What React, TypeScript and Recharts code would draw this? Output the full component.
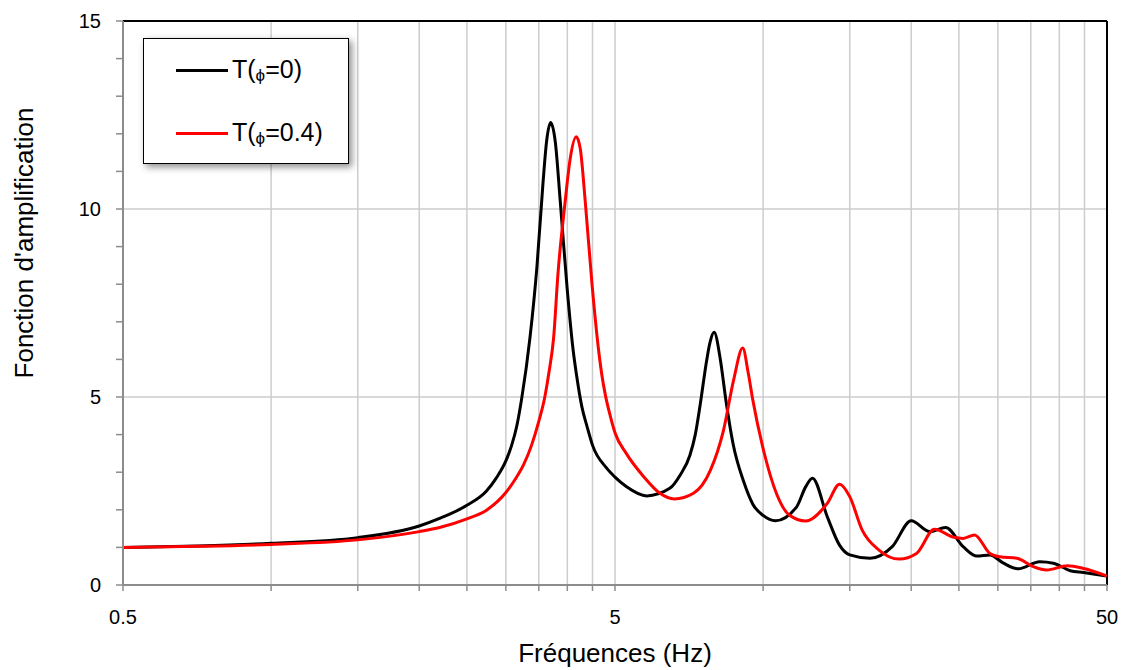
import React from 'react';
import { LineChart, Line, XAxis, YAxis, CartesianGrid, ReferenceLine } from 'recharts';

// Transfer function for phi = 0
const freqPhi0 = [
  0.5, 0.71, 1.0, 1.5, 2.0, 2.2, 2.5, 2.74, 2.87, 3.0, 3.08, 3.16, 3.23, 3.36, 3.47, 3.57, 3.63, 3.7,
  3.78, 3.87, 3.99, 4.11, 4.18, 4.28, 4.39, 4.5, 4.8, 5.0, 5.27, 5.8, 6.46, 6.78, 7.1, 7.28, 7.45, 7.68,
  7.8, 7.95, 8.19, 8.4, 8.69, 9.13, 9.53, 10.0, 10.6, 11.7, 12.2, 12.6, 13.5, 14.3, 15.0, 16.5, 18.3,
  20.0, 21.8, 23.5, 25.5, 27.2, 28.9, 30.8, 33.0, 36.5, 38.9, 42.1, 44.8, 50,
];
const ampPhi0 = [
  1.0, 1.04, 1.11, 1.26, 1.57, 1.77, 2.12, 2.5, 2.85, 3.3, 3.7, 4.25, 4.95, 6.6, 8.47, 10.7, 11.8, 12.3,
  11.8, 10.2, 8.0, 6.25, 5.55, 4.75, 4.2, 3.72, 3.12, 2.87, 2.62, 2.37, 2.57, 2.92, 3.45, 4.0, 4.8, 5.98,
  6.45, 6.72, 5.98, 4.92, 3.75, 2.75, 2.15, 1.85, 1.71, 2.08, 2.61, 2.84, 1.82, 1.06, 0.8, 0.71, 1.02,
  1.71, 1.42, 1.53, 1.02, 0.77, 0.8, 0.58, 0.43, 0.62, 0.58, 0.38, 0.33, 0.24,
];

// Transfer function for phi = 0.4
const freqPhi04 = [
  0.5, 0.71, 1.0, 1.5, 2.0, 2.2, 2.5, 2.74, 3.0, 3.13, 3.26, 3.38, 3.5, 3.6, 3.67, 3.75, 3.83, 3.96,
  4.05, 4.17, 4.25, 4.35, 4.49, 4.63, 4.7, 4.78, 4.89, 5.0, 5.27, 5.72, 6.17, 6.6, 7.22, 7.82, 8.31, 8.71,
  9.09, 9.33, 9.53, 9.97, 10.67, 11.3, 12.2, 13.5, 14.3, 15.0, 15.9, 17.2, 18.9, 20.5, 22.3, 24.4, 25.5,
  26.9, 28.9, 30.3, 32.8, 35.4, 37.7, 41.5, 44.8, 50,
];
const ampPhi04 = [
  1.0, 1.03, 1.08, 1.2, 1.42, 1.53, 1.76, 1.99, 2.46, 2.8, 3.2, 3.7, 4.35, 5.0, 5.65, 6.55, 8.3, 10.2,
  11.3, 11.92, 11.6, 10.2, 8.0, 6.25, 5.6, 5.05, 4.5, 4.05, 3.5, 2.88, 2.44, 2.29, 2.44, 3.06, 4.12, 5.45,
  6.3, 5.63, 4.92, 3.7, 2.4, 1.86, 1.7, 2.17, 2.68, 2.35, 1.46, 0.93, 0.69, 0.84, 1.48, 1.27, 1.24,
  1.33, 0.84, 0.75, 0.71, 0.49, 0.4, 0.51, 0.44, 0.24,
];

const xTicks = [0.5, 1, 1.5, 2, 2.5, 3, 3.5, 4, 4.5, 5, 10, 15, 20, 25, 30, 35, 40, 45, 50];
const xTickLabels = [0.5, 5, 50];
const yTicks = [0, 1, 2, 3, 4, 5, 6, 7, 8, 9, 10, 11, 12, 13, 14, 15];
const yTickLabels = [0, 5, 10, 15];
const yGridValues = [5, 10];

const legendPrefix = ['T(', 'T('];
const legendSub = ['ϕ', 'ϕ'];
const legendSuffix = ['=0)', '=0.4)'];

const COLORS = ['#000000', '#ff0000'];
const FONT = '"Liberation Sans", Arial, sans-serif';
const AXIS_GRAY = '#8c8c8c';
const GRID_GRAY = '#cdcdcd';

const toPoints = (fs: number[], vs: number[]) => fs.map((f, i) => ({ f, v: vs[i] }));
const seriesData = [toPoints(freqPhi0, ampPhi0), toPoints(freqPhi04, ampPhi04)];

const YTitle = () => (
  <text
    x={24}
    y={243}
    transform="rotate(-90 24 243)"
    textAnchor="middle"
    dominantBaseline="central"
    style={{ fontFamily: FONT, fontSize: 26, fill: '#000' }}
  >
    Fonction d'amplification
  </text>
);

export default function App() {
  return (
    <div style={{ position: 'absolute', left: 0, top: 0, width: 1124, height: 670, background: '#fff' }}>
      <LineChart width={1124} height={670} data={seriesData[0]} margin={{ top: 21, right: 17, bottom: 0, left: 0 }}>
        <CartesianGrid horizontal={false} vertical stroke={GRID_GRAY} strokeWidth={1.5} />
        {yGridValues.map((y) => (
          <ReferenceLine key={y} y={y} stroke={GRID_GRAY} strokeWidth={1.5} />
        ))}
        <XAxis
          dataKey="f"
          type="number"
          scale="log"
          domain={[0.5, 50]}
          allowDataOverflow
          ticks={xTicks}
          interval={0}
          height={85}
          tickSize={6}
          tickMargin={19}
          axisLine={{ stroke: AXIS_GRAY, strokeWidth: 2 }}
          tickLine={{ stroke: AXIS_GRAY, strokeWidth: 1.5 }}
          tick={{ fontFamily: FONT, fontSize: 20, fill: '#000' }}
          tickFormatter={(v: number) => (xTickLabels.includes(v) ? String(v) : '')}
          label={{
            value: 'Fréquences (Hz)',
            position: 'insideBottom',
            offset: 8,
            style: { fontFamily: FONT, fontSize: 26, fill: '#000' },
          }}
        />
        <YAxis
          type="number"
          domain={[0, 15]}
          ticks={yTicks}
          interval={0}
          width={123}
          tickSize={7}
          tickMargin={15}
          axisLine={{ stroke: AXIS_GRAY, strokeWidth: 2 }}
          tickLine={{ stroke: AXIS_GRAY, strokeWidth: 1.5 }}
          tick={{ fontFamily: FONT, fontSize: 20, fill: '#000' }}
          tickFormatter={(v: number) => (yTickLabels.includes(v) ? String(v) : '')}
          label={{ content: YTitle }}
        />
        <ReferenceLine y={15} stroke="#000" strokeWidth={2} />
        <ReferenceLine x={50} stroke="#000" strokeWidth={2} />
        {seriesData.map((d, i) => (
          <Line
            key={i}
            data={d}
            dataKey="v"
            type="monotone"
            stroke={COLORS[i]}
            strokeWidth={3}
            dot={false}
            activeDot={false}
            isAnimationActive={false}
          />
        ))}
      </LineChart>
      <div
        style={{
          position: 'absolute',
          left: 143,
          top: 38,
          width: 206,
          height: 126,
          boxSizing: 'border-box',
          border: '1.5px solid #000',
          background: '#fff',
          boxShadow: '3px 3px 7px rgba(0,0,0,0.45)',
        }}
      >
        {legendPrefix.map((p, i) => (
          <div key={i} style={{ position: 'absolute', left: 0, top: i === 0 ? 19 : 82, height: 24, width: 200 }}>
            <div
              style={{
                position: 'absolute',
                left: 32,
                top: 10.5,
                width: 52,
                height: 3,
                background: COLORS[i],
              }}
            />
            <span
              style={{
                position: 'absolute',
                left: 88,
                top: -1,
                whiteSpace: 'nowrap',
                fontFamily: FONT,
                fontSize: 25,
                lineHeight: '25px',
                color: '#000',
              }}
            >
              {p}
              <span style={{ fontSize: 17, verticalAlign: -3 }}>{legendSub[i]}</span>
              {legendSuffix[i]}
            </span>
          </div>
        ))}
      </div>
    </div>
  );
}
